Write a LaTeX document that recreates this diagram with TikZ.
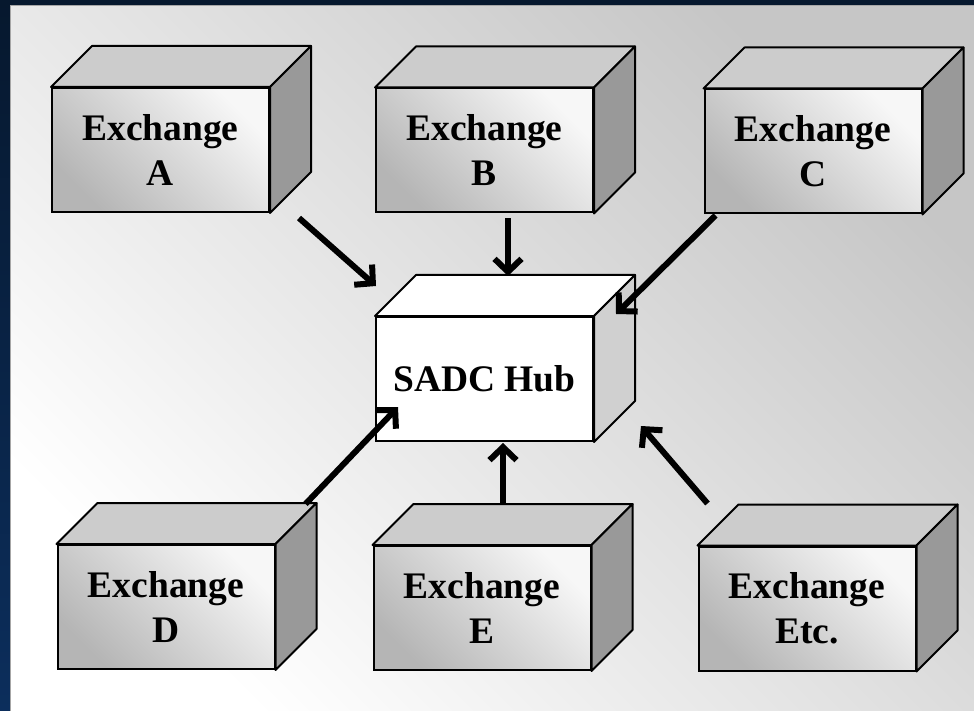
\documentclass[tikz,border=0pt]{standalone}
\usepackage{fontspec}
\setmainfont{Liberation Serif}
\usepackage{xcolor}
\usepackage{tikz}
\usetikzlibrary{
  arrows.meta,
  calc
}

\definecolor{slidetop}{HTML}{06182E}
\definecolor{slidebot}{HTML}{0C2E5C}

\begin{document}
\begin{tikzpicture}[
  x=1pt, y=-1pt,
  font=\fontsize{37.5}{45}\selectfont\bfseries,
  exbox/.style={draw=black, line width=2pt, minimum width=217pt, minimum height=124pt, inner sep=0pt, align=center, left color=gray!58, right color=gray!6, shading angle=135},
  hubbox/.style={draw=black, line width=2pt, fill=white, minimum width=217pt, minimum height=124pt, inner sep=0pt},
  topface/.style={fill=gray!40, draw=black, line width=2pt, line join=round},
  sideface/.style={fill=gray!80, draw=black, line width=2pt, line join=round},
  hubside/.style={fill=gray!37, draw=black, line width=2pt, line join=round},
  flow/.style={draw=black, line width=6pt, -{Straight Barb[length=13pt, width=27pt, line width=6pt]}}
]
\useasboundingbox (0,0) rectangle (974,711);

% slide frame
\shade[top color=slidetop, bottom color=slidebot] (0,0) rectangle (974,711);
\shade[left color=white, right color=gray!45, shading angle=135] (11,6) rectangle (974,711);
\draw[gray!70, line width=1pt] (10.5,711) -- (10.5,5.5) -- (974,5.5);

% exchanges
\node[exbox] (exA) at (160.5,150) {Exchange\\A};
\node[exbox] (exB) at (484.5,150.5) {Exchange\\B};
\node[exbox] (exC) at (813,151.5) {Exchange\\C};
\node[exbox] (exD) at (166,607) {Exchange\\D};
\node[exbox] (exE) at (482,608) {Exchange\\E};
\node[exbox] (exEtc) at (807,608.5) {Exchange\\Etc.};

\foreach \n in {exA,exB,exC,exD,exE,exEtc}{
  \filldraw[topface] (\n.north west) -- ++(41,-41) -- ($(\n.north east)+(41,-41)$) -- (\n.north east) -- cycle;
  \filldraw[sideface] (\n.north east) -- ++(41,-41) -- ($(\n.south east)+(41,-41)$) -- (\n.south east) -- cycle;
}

% hub
\node[hubbox] (hub) at (484.5,379) {SADC Hub};
\filldraw[topface, fill=white] (hub.north west) -- ++(41,-41) -- ($(hub.north east)+(41,-41)$) -- (hub.north east) -- cycle;
\filldraw[hubside] (hub.north east) -- ++(41,-41) -- ($(hub.south east)+(41,-41)$) -- (hub.south east) -- cycle;

% links into the hub
\draw[flow] ([shift={(29,5)}]exA.south east) -- ([shift={(1,-30)}]hub.north west);
\draw[flow] ([shift={(23.5,5)}]exB.south) -- ([shift={(23.5,-40)}]hub.north);
\draw[flow] ([shift={(12,1)}]exC.south west) -- ([shift={(22,-2)}]hub.north east);
\draw[flow] ([shift={(30,-40)}]exD.north east) -- ([shift={(23,-35)}]hub.south west);
\draw[flow] ([shift={(21,-41)}]exE.north) -- ([shift={(18.5,1)}]hub.south);
\draw[flow] ([shift={(10,-42)}]exEtc.north west) -- ([shift={(47,-16)}]hub.south east);

\end{tikzpicture}
\end{document}
